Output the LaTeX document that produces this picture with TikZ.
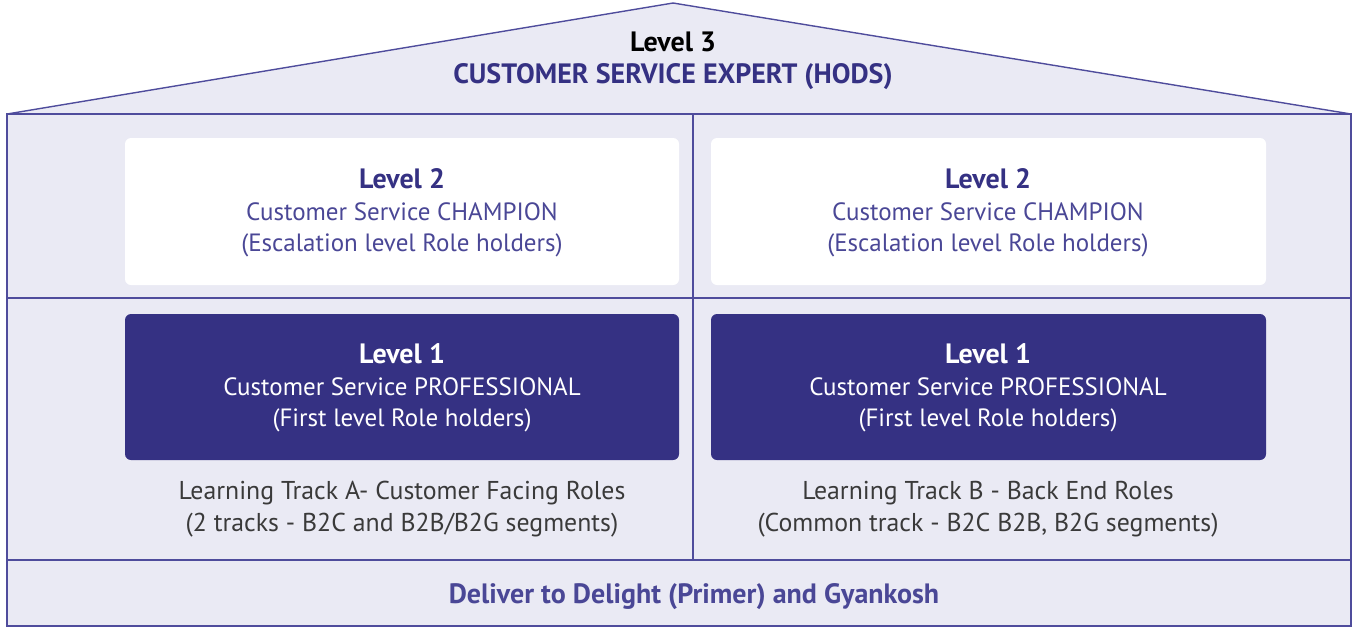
\documentclass[tikz,border=0pt]{standalone}
\usepackage{fontspec}
\setmainfont{PT Sans}
\definecolor{bgfill}{HTML}{EAEAF4}
\definecolor{edge}{HTML}{4F4C9C}
\definecolor{navy}{HTML}{353183}
\definecolor{midblue}{HTML}{4A4796}
\definecolor{greytext}{HTML}{3A3A3A}
\newcommand{\bigbf}[1]{{\fontsize{28}{31.5}\selectfont\bfseries #1}}
\tikzset{
  frame/.style={draw=edge, line width=1.4pt},
  whitebox/.style={fill=white, rounded corners=6pt},
  darkbox/.style={fill=navy, rounded corners=6pt},
  txt/.style={align=center, font=\fontsize{25}{31.5}\selectfont},
  tracktxt/.style={align=center, font=\fontsize{25.8}{31.5}\selectfont, text=greytext},
}
\begin{document}
\begin{tikzpicture}[x=1pt,y=-1pt]
\useasboundingbox (0,0) rectangle (1354,627);
% house
\coordinate (apex) at (673,3);
\coordinate (rl) at (7,114);
\coordinate (rr) at (1351,114);
\coordinate (bl) at (7,626);
\coordinate (br) at (1351,626);
\fill[bgfill] (rl) -- (apex) -- (rr) -- (br) -- (bl) -- cycle;
\draw[frame, line join=miter] (rl) -- (apex) -- (rr);
\draw[frame] (rl) rectangle (br);
\coordinate (ml) at (7,298);
\coordinate (mr) at (1351,298);
\coordinate (fl) at (7,560);
\coordinate (fr) at (1351,560);
\coordinate (vt) at (693,114);
\coordinate (vb) at (693,560);
\draw[frame, line width=1.1pt] (ml) -- (mr);
\draw[frame, line width=1.1pt] (fl) -- (fr);
\draw[frame, line width=1.1pt] (vt) -- (vb);
% boxes
\fill[whitebox] (125,138) rectangle (679,285);
\fill[whitebox] (711,138) rectangle (1266,285);
\fill[darkbox] (125,314) rectangle (679,460);
\fill[darkbox] (711,314) rectangle (1266,460);
% texts
\node[txt] (l3) at (673,61) {\textcolor{black}{\bigbf{Level 3}}\\\textcolor{navy}{\bigbf{CUSTOMER SERVICE EXPERT (HODS)}}};
\node[txt, text=midblue] (l2a) at (402,213) {\textcolor{navy}{\bigbf{Level 2}}\\Customer Service CHAMPION\\(Escalation level Role holders)};
\node[txt, text=midblue] (l2b) at (988,213) {\textcolor{navy}{\bigbf{Level 2}}\\Customer Service CHAMPION\\(Escalation level Role holders)};
\node[txt, text=white] (l1a) at (402,388) {\bigbf{Level 1}\\Customer Service PROFESSIONAL\\(First level Role holders)};
\node[txt, text=white] (l1b) at (988,388) {\bigbf{Level 1}\\Customer Service PROFESSIONAL\\(First level Role holders)};
\node[tracktxt] (ta) at (402,509) {Learning Track A- Customer Facing Roles\\(2 tracks - B2C and B2B/B2G segments)};
\node[tracktxt] (tb) at (988,509) {Learning Track B - Back End Roles\\(Common track - B2C B2B, B2G segments)};
\node[txt, text=midblue] (d) at (694,597) {\bigbf{Deliver to Delight (Primer) and Gyankosh}};
\end{tikzpicture}
\end{document}
